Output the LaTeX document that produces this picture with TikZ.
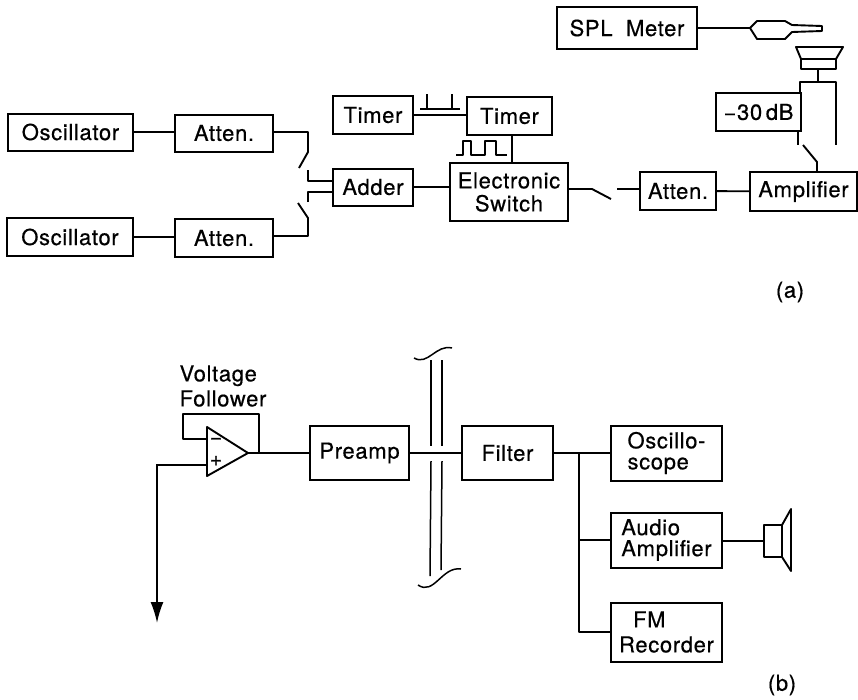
\documentclass[tikz,border=0pt]{standalone}
\usepackage{fontspec}
\setmainfont[LetterSpace=3,FakeBold=0.5]{TeX Gyre Heros}
\usetikzlibrary{arrows.meta,calc}

\begin{document}
\begin{tikzpicture}[x=1pt, y=-1pt,
  block/.style={draw, line width=2pt, inner sep=0pt, align=center, font=\fontsize{22}{23}\selectfont},
  caption/.style={inner sep=0pt, align=left, font=\fontsize{22}{23}\selectfont},
  wire/.style={line width=1.9pt, line join=round},
  thinwire/.style={line width=1.5pt, line join=round},
  arrow/.style={-{Latex[length=21pt, width=13pt]}, line width=1.9pt}
]
\useasboundingbox (0,0) rectangle (858,699);
% part (a)
\node[block, minimum width=125pt, minimum height=37pt] (osc1) at (70.5,132) {Oscillator};
\node[block, minimum width=98pt, minimum height=37pt] (att1) at (224,133) {Atten.};
\node[block, minimum width=126pt, minimum height=38pt] (osc2) at (70,237) {Oscillator};
\node[block, minimum width=98pt, minimum height=38pt] (att2) at (224,238) {Atten.};
\node[block, minimum width=80pt, minimum height=38pt] (timer1) at (373,115) {Timer};
\node[block, minimum width=85pt, minimum height=38pt] (timer2) at (509.5,116) {Timer};
\node[block, minimum width=80pt, minimum height=37pt] (adder) at (373,187) {Adder};
\node[block, minimum width=118pt, minimum height=58pt] (eswitch) at (509,192) {Electronic\\Switch};
\node[block, minimum width=76pt, minimum height=38pt] (att3) at (678,191) {Atten.};
\node[block, minimum width=107pt, minimum height=39pt] (amp) at (803.5,191.5) {Amplifier};
\node[block, minimum width=85pt, minimum height=38pt] (minus30) at (758.5,112) {−30\,dB};
\node[block, minimum width=140pt, minimum height=42pt] (spl) at (627,28) {SPL\ \ Meter};

\draw[wire] (osc1.east) -- (att1.west |- osc1.east);
\draw[wire] (osc2.east) -- (att2.west |- osc2.east);
\draw[wire] (timer1) -- (timer2.west |- timer1);
\draw[wire] (adder) -- (eswitch.west |- adder);
\draw[wire] (att3) -- (amp);
\coordinate (link) at (512,150);
\draw[wire] (timer2.south -| link) -- (eswitch.north -| link);

% input switches
\coordinate (up) at (308,132);
\coordinate (down) at (308,236);
\draw[wire] (att1.east |- up) -- (up) -- (308,152) -- (299,168);
\draw[wire] (att2.east |- down) -- (down) -- (308,218) -- (298,203);
\draw[wire] (308,170) -- (308,181) -- (adder.west |- 0,181);
\draw[wire] (308,202) -- (308,192) -- (adder.west |- 0,192);

% timer pulses
\draw[thinwire] (420,109) -- (460,109) (427,94) -- (427,109) (452,94) -- (452,109);
\draw[thinwire] (456,155) -- (463,155) -- (463,141) -- (471,141) -- (471,155) -- (485,155)
  -- (485,141) -- (496,141) -- (496,155) -- (507,155);

% output switch
\draw[wire] (eswitch.east |- 0,189) -- (592,189) -- (611,199);
\draw[wire] (617,189) -- (att3.west |- 0,189);

% speaker and attenuator
\coordinate (spk) at (818,69);
\draw[wire] (796,47) -- (843,47) -- (836,59) -- (801,59) -- cycle;
\draw[wire] (801,59) rectangle (836,69);
\draw[wire] (spk) -- (818,82);
\draw[wire] (800,93) -- (800,82) -- (836,82) -- (836,145);
\draw[wire] (798,131) -- (798,145);
\draw[wire] (803,145) -- (817,162) -- (817,172);

% microphone
\coordinate (mic) at (750,28);
\draw[wire] (spl) -- (mic);
\draw[wire] (mic) -- (757,21) -- (785,21) -- (792,25) -- (822,26) -- (822,31) -- (792,32)
  -- (785,39) -- (757,39) -- cycle;

\node[caption] (capa) at (790,292) {(a)};

% part (b)
\coordinate (ampout) at (248,453);
\draw[wire] (207,427) -- (ampout) -- (207,476) -- cycle;
\node[inner sep=0pt, font=\fontsize{21}{21}\selectfont] (minus) at (216,441) {−};
\node[inner sep=0pt, font=\fontsize{21}{21}\selectfont] (plus) at (216,461) {+};
\node[caption] (follower) at (223,386) {Voltage\\[2pt]Follower};
\node[block, minimum width=99pt, minimum height=54pt] (preamp) at (359.5,453) {Preamp};
\node[block, minimum width=91pt, minimum height=54pt] (filter) at (507.5,453) {Filter};
\node[block, align=left, minimum width=111pt, minimum height=55pt] (scope) at (666.5,453) {Oscillo-\\[-2pt]scope};
\node[block, align=left, minimum width=111pt, minimum height=55pt] (audio) at (666.5,540) {Audio\\[-2pt]Amplifier};
\node[block, align=left, minimum width=111pt, minimum height=59pt] (fm) at (666.5,632) {\hspace*{14pt}FM\\[2pt]Recorder};
\node[caption] (capb) at (782,685) {(b)};

\draw[wire] (ampout) -- (preamp);
\draw[wire] (259,453) -- (259,414) -- (183,414) -- (183,439) -- (207,439);
\draw[arrow] (207,465) -- (157,465) -- (157,623);
\draw[wire] (preamp) -- (filter);
\draw[wire] (filter) -- (scope);
\draw[wire] (579,453) -- (579,632) -- (fm.west |- 0,632);
\draw[wire] (579,540) -- (audio.west);

% cable break
\draw[thinwire] (431,360) -- (431,446) (442,360) -- (442,446);
\draw[thinwire] (431,461) -- (430,576) (442,461) -- (441,570);
\draw[thinwire] (414,358) .. controls (428,366) and (436,344) .. (452,348);
\draw[thinwire] (418,585) .. controls (434,596) and (442,566) .. (461,569);

% output speaker
\coordinate (spk2) at (764,541);
\draw[wire] (audio.east |- spk2) -- (spk2);
\draw[wire] (764,525) rectangle (782,557);
\draw[wire] (782,525) -- (791,509) -- (791,571) -- (782,557);
\end{tikzpicture}
\end{document}
